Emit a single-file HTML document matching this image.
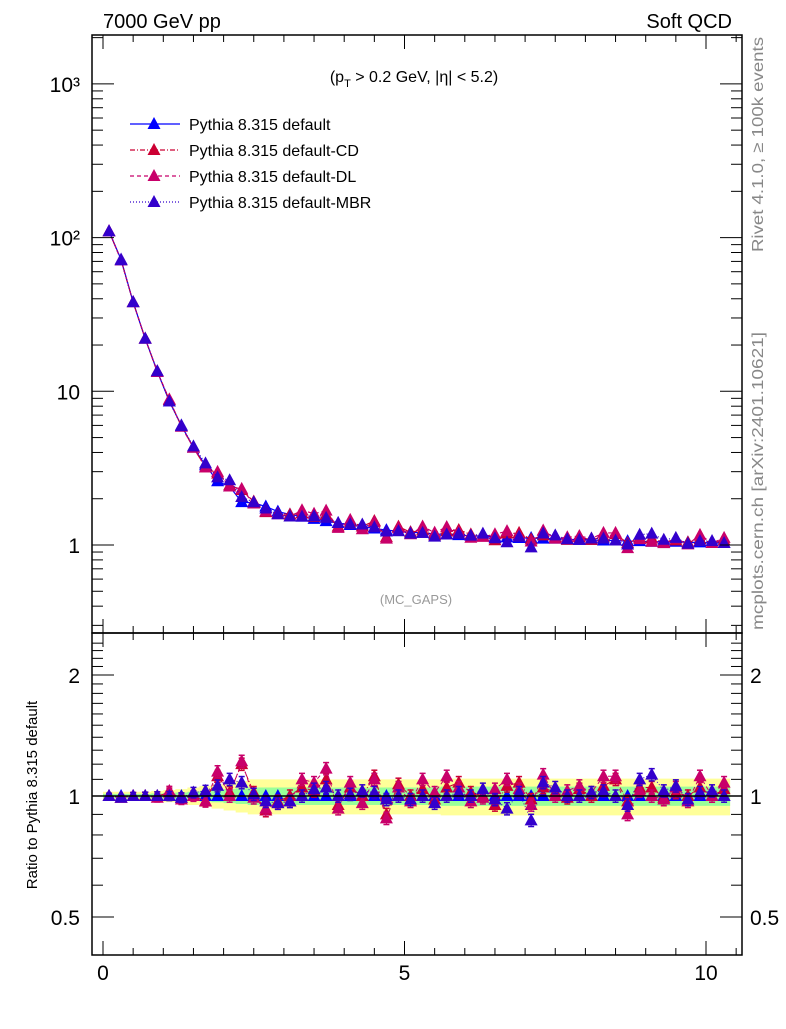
<!DOCTYPE html>
<html><head><meta charset="utf-8"><style>
body{margin:0;background:#fff;}
svg text{font-family:"Liberation Sans",sans-serif;}
</style></head><body>
<svg id="chart" width="786" height="1024" viewBox="0 0 786 1024" xmlns="http://www.w3.org/2000/svg">
<rect width="786" height="1024" fill="#fff"/>
<g id="bands"></g>
<g id="marks"></g>
<g id="axes"></g>
<text x="103" y="28" font-size="20">7000 GeV pp</text>
<text x="732" y="28" font-size="20" text-anchor="end">Soft QCD</text>
<text x="414" y="82" font-size="16" text-anchor="middle">(p<tspan font-size="11" dy="5">T</tspan><tspan dy="-5"> &gt; 0.2 GeV, |η| &lt; 5.2)</tspan></text>
<text x="416" y="604" font-size="13" fill="#999" text-anchor="middle">(MC_GAPS)</text>
<text transform="translate(763,252) rotate(-90)" font-size="16" fill="#888" textLength="215" lengthAdjust="spacingAndGlyphs">Rivet 4.1.0, ≥ 100k events</text>
<text transform="translate(763,630) rotate(-90)" font-size="16" fill="#888" textLength="298" lengthAdjust="spacingAndGlyphs">mcplots.cern.ch [arXiv:2401.10621]</text>
<text transform="translate(37,795) rotate(-90)" font-size="15" text-anchor="middle">Ratio to Pythia 8.315 default</text>
<g id="legend"></g>
</svg>
<script>
const xs=[0.1,0.3,0.5,0.7,0.9,1.1,1.3,1.5,1.7,1.9,2.1,2.3,2.5,2.7,2.9,3.1,3.3,3.5,3.7,3.9,4.1,4.3,4.5,4.7,4.9,5.1,5.3,5.5,5.7,5.9,6.1,6.3,6.5,6.7,6.9,7.1,7.3,7.5,7.7,7.9,8.1,8.3,8.5,8.7,8.9,9.1,9.3,9.5,9.7,9.9,10.1,10.3];
const defaultVals=[110,72,38,22,13.5,8.6,6.0,4.3,3.3,2.6,2.4,1.9,1.88,1.78,1.65,1.58,1.53,1.48,1.43,1.39,1.35,1.32,1.28,1.25,1.23,1.21,1.2,1.18,1.17,1.16,1.15,1.14,1.13,1.12,1.11,1.11,1.1,1.1,1.09,1.08,1.08,1.07,1.07,1.06,1.06,1.05,1.05,1.05,1.04,1.04,1.03,1.03];
const ratioCD=[1.0,0.99,1.0,1.0,1.0,1.02,0.99,1.0,0.97,1.12,1.02,1.2,1.02,0.92,0.97,1.0,1.05,1.03,1.1,0.95,1.05,1.0,1.12,0.9,1.07,1.0,1.04,0.98,1.05,1.08,1.02,1.0,0.95,1.06,1.08,0.98,1.05,1.02,0.99,1.04,1.0,1.06,1.1,0.97,1.05,1.05,0.99,1.02,1.0,1.05,1.0,1.04];
const ratioDL=[1.0,0.99,1.0,1.0,0.99,1.03,0.98,1.0,0.97,1.15,1.0,1.22,0.99,0.93,0.96,0.97,1.1,1.08,1.17,0.93,1.08,0.96,1.1,0.88,1.05,0.97,1.1,1.02,1.12,1.05,0.97,0.99,1.04,1.1,1.04,0.95,1.13,1.0,1.03,1.06,1.02,1.12,1.12,0.9,1.03,1.0,0.98,1.05,0.97,1.12,1.0,1.08];
const ratioMBR=[1.0,0.99,1.0,1.0,1.0,1.0,0.99,1.02,1.03,1.06,1.1,1.08,1.01,0.97,0.96,0.97,1.0,1.04,1.05,1.0,1.01,1.03,1.02,0.98,1.0,0.98,1.0,0.96,1.0,1.02,1.0,1.04,0.98,0.93,1.02,0.87,1.08,1.05,1.0,1.0,1.02,1.03,1.0,0.95,1.1,1.13,1.03,1.06,0.98,1.02,1.03,1.0];
const bandYellow=[0.025,0.025,0.025,0.025,0.03,0.035,0.04,0.05,0.06,0.07,0.08,0.09,0.1,0.1,0.1,0.1,0.1,0.1,0.1,0.1,0.1,0.1,0.1,0.1,0.1,0.1,0.1,0.1,0.105,0.105,0.105,0.105,0.105,0.105,0.105,0.105,0.105,0.105,0.105,0.105,0.105,0.105,0.105,0.105,0.105,0.105,0.105,0.105,0.105,0.105,0.105,0.105];
const bandGreen=[0.012,0.012,0.012,0.012,0.015,0.018,0.02,0.025,0.03,0.035,0.04,0.045,0.05,0.05,0.05,0.05,0.05,0.05,0.05,0.05,0.05,0.05,0.05,0.05,0.05,0.05,0.05,0.05,0.055,0.055,0.055,0.055,0.055,0.055,0.055,0.055,0.055,0.055,0.055,0.055,0.055,0.055,0.055,0.055,0.055,0.055,0.055,0.055,0.055,0.055,0.055,0.055];
const xTicks=[0,5,10];
const mainTicks=[1,10,100,1000];
const mainTickLabels=["1","10","10²","10³"];
const ratioTicks=[0.5,1,2];
const ratioTickLabels=["0.5","1","2"];

const NS="http://www.w3.org/2000/svg";
const L=92,R=742,T=35,M=633,B=955;
const X=v=>103+(v)*60.3;
const Y=v=>545-153.7*Math.log10(v);
const YR=v=>796-402*Math.log10(v);
function mk(tag,attrs,parent){const e=document.createElementNS(NS,tag);for(const k in attrs)e.setAttribute(k,attrs[k]);parent.appendChild(e);return e;}
const bands=document.getElementById('bands'),marks=document.getElementById('marks'),axes=document.getElementById('axes'),legend=document.getElementById('legend');

function bandPath(w){let up='',dn='';const hw=0.1;
 xs.forEach((x,i)=>{up+=(i?'L':'M')+X(x-hw)+','+YR(1+w[i])+'L'+X(x+hw)+','+YR(1+w[i]);});
 for(let i=xs.length-1;i>=0;i--){dn+='L'+X(xs[i]+hw)+','+YR(1-w[i])+'L'+X(xs[i]-hw)+','+YR(1-w[i]);}
 return up+dn+'Z';}
let by=mk('path',{d:bandPath(bandYellow),fill:'#ffff99'},bands);


let bg=mk('path',{d:bandPath(bandGreen),fill:'#99ff99'},bands);



const series=[
 {name:'default',label:'Pythia 8.315 default',color:'#0000ff',dash:'',ratio:xs.map(()=>1)},
 {name:'default-cd',label:'Pythia 8.315 default-CD',color:'#cc0033',dash:'5,2,1,2',ratio:ratioCD},
 {name:'default-dl',label:'Pythia 8.315 default-DL',color:'#c8006a',dash:'4,3',ratio:ratioDL},
 {name:'default-mbr',label:'Pythia 8.315 default-MBR',color:'#3300cc',dash:'1,2',ratio:ratioMBR}
];
function tri(cx,cy,c,parent){return mk('path',{d:`M${cx},${cy-7}L${cx+6.5},${cy+5}L${cx-6.5},${cy+5}Z`,fill:c},parent);}
series.forEach((s,si)=>{
 const g=mk('g',{},marks);
 
 
 const vals=xs.map((x,i)=>defaultVals[i]*s.ratio[i]);
 const pts=xs.map((x,i)=>X(x)+','+Y(vals[i])).join(' ');
 const ln=mk('polyline',{points:pts,fill:'none',stroke:s.color,'stroke-width':1.2,'stroke-dasharray':s.dash},g);
 
 
 xs.forEach((x,i)=>{const t=tri(X(x),Y(vals[i]),s.color,g);
  
  });
 const rg=mk('g',{},marks);
 
 
 if(si>0){
  const rp=xs.map((x,i)=>X(x)+','+YR(s.ratio[i])).join(' ');
  const rl=mk('polyline',{points:rp,fill:'none',stroke:s.color,'stroke-width':1,'stroke-dasharray':s.dash},rg);
  
  
 }
 xs.forEach((x,i)=>{const r=s.ratio[i];const e=0.015+0.02*Math.min(1,x/2);
  const cx=X(x);
  if(si>0){mk('line',{x1:cx,x2:cx,y1:YR(r*(1+e)),y2:YR(r*(1-e)),stroke:s.color,'stroke-width':1},rg);
   mk('line',{x1:cx-3,x2:cx+3,y1:YR(r*(1+e)),y2:YR(r*(1+e)),stroke:s.color,'stroke-width':1.5},rg);
   mk('line',{x1:cx-3,x2:cx+3,y1:YR(r*(1-e)),y2:YR(r*(1-e)),stroke:s.color,'stroke-width':1.5},rg);}
  const t=tri(cx,YR(r),s.color,rg);
  
  });
 const lg=mk('g',{},legend);
 
 
 const ly=124+26*si;
 mk('line',{x1:130,x2:180,y1:ly,y2:ly,stroke:s.color,'stroke-width':1.2,'stroke-dasharray':s.dash},lg);
 tri(154,ly,s.color,lg);
 const tx=mk('text',{x:189,y:ly+6,'font-size':16},lg);tx.textContent=s.label;
});
const one=mk('line',{x1:L,x2:R,y1:YR(1),y2:YR(1),stroke:'#000','stroke-width':1.5},marks);



const f1=mk('rect',{x:L,y:T,width:R-L,height:M-T,fill:'none',stroke:'#000','stroke-width':1.5},axes);


const f2=mk('rect',{x:L,y:M,width:R-L,height:B-M,fill:'none',stroke:'#000','stroke-width':1.5},axes);


for(let v=0;v<=10.5;v+=0.5){const maj=xTicks.includes(v);const len=maj?14:7;const x=X(v);
 [[T,1],[M,-1],[M,1],[B,-1]].forEach(([y,d])=>mk('line',{x1:x,x2:x,y1:y,y2:y+d*len,stroke:'#000','stroke-width':1},axes));}
xTicks.forEach(v=>{const t=mk('text',{x:X(v),y:980,'font-size':21,'text-anchor':'middle'},axes);
 
 
 t.textContent=v;});
for(let d=0.1;d<=1000;d*=10){for(let k=1;k<10;k++){const v=d*k;const y=Y(v);if(y<T||y>M)continue;const len=k==1?22:11;
 mk('line',{x1:L,x2:L+len,y1:y,y2:y,stroke:'#000','stroke-width':1},axes);
 mk('line',{x1:R,x2:R-len,y1:y,y2:y,stroke:'#000','stroke-width':1},axes);}}
mainTicks.forEach((v,i)=>{const t=mk('text',{x:80,y:Y(v)+8,'font-size':21,'text-anchor':'end'},axes);
 
 
 t.textContent=mainTickLabels[i];});
for(let v=0.4;v<=2.5;v+=0.1){const y=YR(v);if(y<M||y>B)continue;const maj=ratioTicks.some(r=>Math.abs(r-v)<1e-6);const len=maj?22:11;
 mk('line',{x1:L,x2:L+len,y1:y,y2:y,stroke:'#000','stroke-width':1},axes);
 mk('line',{x1:R,x2:R-len,y1:y,y2:y,stroke:'#000','stroke-width':1},axes);}
ratioTicks.forEach((v,i)=>{
 const t=mk('text',{x:80,y:YR(v)+8,'font-size':21,'text-anchor':'end'},axes);
 
 
 t.textContent=ratioTickLabels[i];
 const t2=mk('text',{x:750,y:YR(v)+8,'font-size':21},axes);
 
 
 t2.textContent=ratioTickLabels[i];});
</script>
</body></html>
